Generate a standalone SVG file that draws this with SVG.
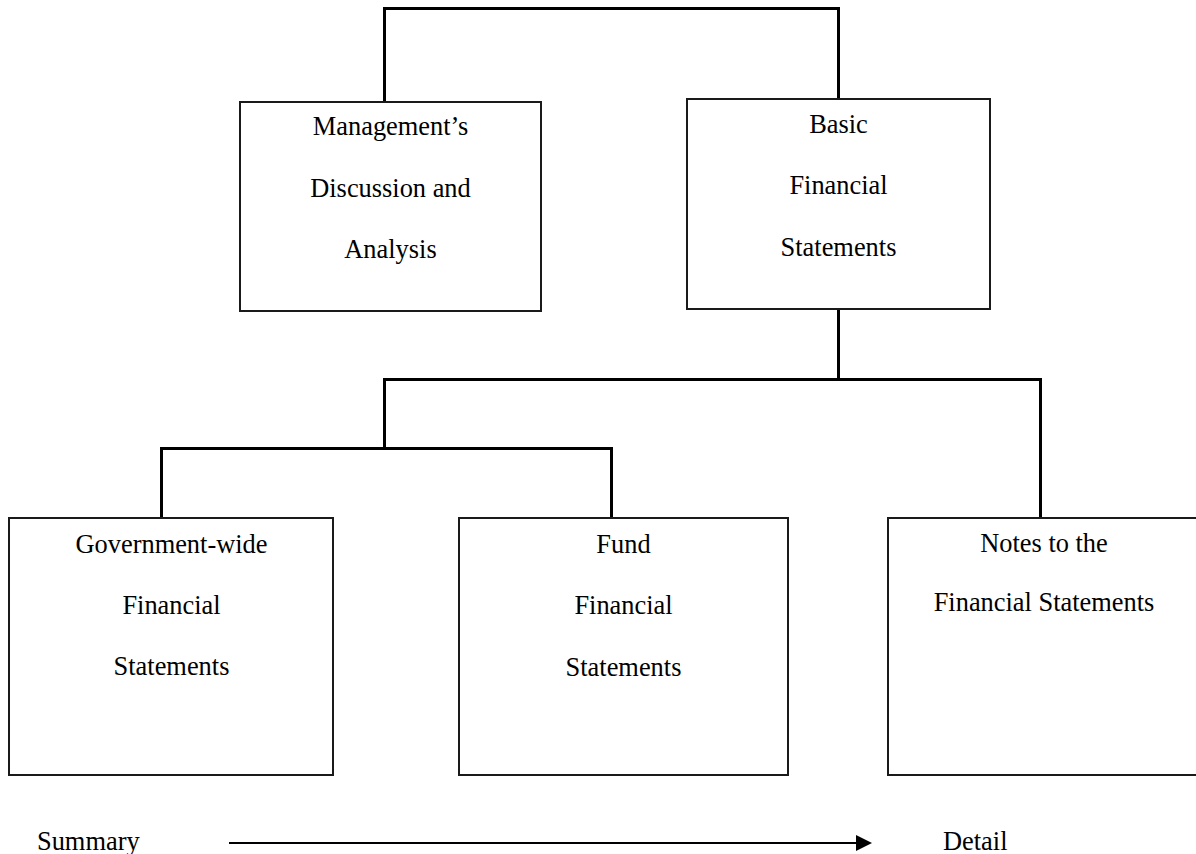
<svg xmlns="http://www.w3.org/2000/svg" width="1196" height="854" viewBox="0 0 1196 854">
<style>
.box{fill:#fff;stroke:#1a1a1a;stroke-width:2}
.conn{fill:none;stroke:#000;stroke-width:3}
.t{font-family:"Liberation Serif","Times New Roman",serif;font-size:26.4px;fill:#000;text-anchor:middle}
.ts{font-family:"Liberation Serif","Times New Roman",serif;font-size:26.4px;fill:#000}
</style>
<rect width="1196" height="854" fill="#fff"/>
<g id="connectors">
<path class="conn" d="M384.5,102 V8.5 H838.5 V99"/>
<path class="conn" d="M838.5,309 V379.5"/>
<path class="conn" d="M384.5,448 V379.5 H1040.5 V518"/>
<path class="conn" d="M161.5,518 V448.5 H611.5 V518"/>
<line x1="229" y1="843" x2="858" y2="843" stroke="#000" stroke-width="2"/>
<polygon points="856,835 872,843 856,851" fill="#000"/>
</g>
<g id="mda">
<rect class="box" x="240" y="102" width="301" height="209"/>
<text class="t" x="390.5" y="135">Management’s</text>
<text class="t" x="390.5" y="197">Discussion and</text>
<text class="t" x="390.5" y="258">Analysis</text>
</g>
<g id="bfs">
<rect class="box" x="687" y="99" width="303" height="210"/>
<text class="t" x="838.5" y="133">Basic</text>
<text class="t" x="838.5" y="194">Financial</text>
<text class="t" x="838.5" y="256">Statements</text>
</g>
<g id="gov">
<rect class="box" x="9" y="518" width="324" height="257"/>
<text class="t" x="171.5" y="553">Government-wide</text>
<text class="t" x="171.5" y="614">Financial</text>
<text class="t" x="171.5" y="675">Statements</text>
</g>
<g id="fund">
<rect class="box" x="459" y="518" width="329" height="257"/>
<text class="t" x="623.5" y="553">Fund</text>
<text class="t" x="623.5" y="614">Financial</text>
<text class="t" x="623.5" y="676">Statements</text>
</g>
<g id="notes">
<rect class="box" x="888" y="518" width="320" height="257"/>
<text class="t" x="1044" y="552">Notes to the</text>
<text class="t" x="1044" y="611">Financial Statements</text>
</g>
<g id="legend">
<text class="ts" x="37" y="850">Summary</text>
<text class="ts" x="943" y="850">Detail</text>
</g>
</svg>
